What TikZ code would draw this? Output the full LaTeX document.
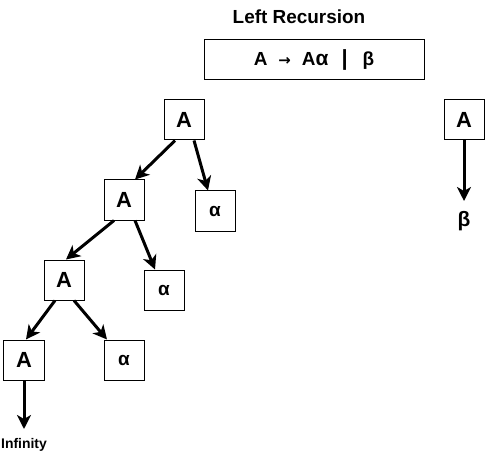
\documentclass[tikz,border=0pt]{standalone}
\usepackage{fontspec}
\setmainfont{Liberation Sans}
\usetikzlibrary{arrows.meta}
\begin{document}
\begin{tikzpicture}[x=1bp,y=-1bp,
  box/.style={draw,line width=1bp,minimum width=40bp,minimum height=40bp,inner sep=0pt,font=\bfseries\fontsize{22}{22}\selectfont},
  abox/.style={box,font=\bfseries\fontsize{19}{20}\selectfont},
  conn/.style={line width=3bp,-{Stealth[length=14bp,width=14bp,inset=4bp]}},
  lbl/.style={inner sep=0pt,font=\bfseries}]
\useasboundingbox (0,0) rectangle (485,470);
\node[lbl,font=\bfseries\fontsize{19}{21}\selectfont] (title) at (299,17) {Left Recursion};
\node[draw,line width=1bp,minimum width=220bp,minimum height=40bp,inner sep=0pt,font=\bfseries\fontsize{19}{21}\selectfont] (rule) at (314,60) {A\hspace{11bp}{\fontspec{DejaVu Sans}\fontsize{15}{15}\selectfont →}\hspace{11bp}A{\fontsize{21}{21}\selectfont α}\hspace{13bp}{\fontsize{22}{22}\selectfont |}\hspace{15bp}β};
\node[box] (a1) at (184,120) {A};
\node[abox] (al1) at (215,211) {α};
\node[box] (a2) at (124,200) {A};
\node[abox] (al2) at (164,290) {α};
\node[box] (a3) at (64,280) {A};
\node[abox] (al3) at (124,360) {α};
\node[box] (a4) at (24,360) {A};
\node[lbl,font=\bfseries\fontsize{14}{16}\selectfont] (inf) at (24,445) {Infinity};
\coordinate (infend) at (24,429);
\node[box] (ar) at (464,120) {A};
\node[lbl,font=\bfseries\fontsize{21}{22}\selectfont] (beta) at (464,221) {β};
\coordinate (betaend) at (464,201);
\draw[conn] ([xshift=-9bp]a1.south) -- ([xshift=11bp]a2.north);
\draw[conn] ([xshift=10bp]a1.south) -- ([xshift=-7bp]al1.north);
\draw[conn] ([xshift=-10bp]a2.south) -- ([xshift=2bp]a3.north);
\draw[conn] ([xshift=11bp]a2.south) -- ([xshift=-9bp]al2.north);
\draw[conn] ([xshift=-9bp]a3.south) -- ([xshift=2bp]a4.north);
\draw[conn] ([xshift=10bp]a3.south) -- ([xshift=-17bp]al3.north);
\draw[conn] (a4.south) -- (infend);
\draw[conn] (ar.south) -- (betaend);
\end{tikzpicture}
\end{document}
